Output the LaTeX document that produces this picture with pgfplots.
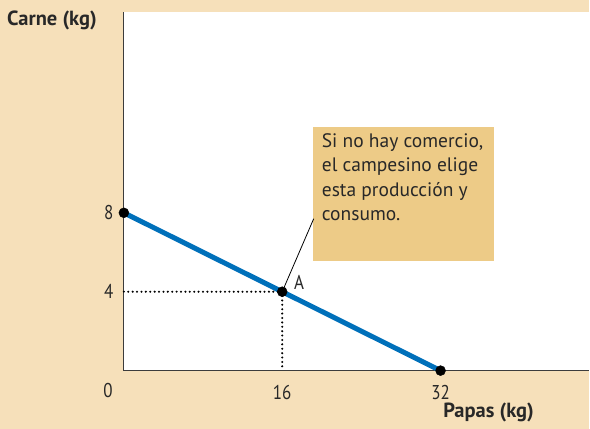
\documentclass[border=0pt]{standalone}
\usepackage{pgfplots}
\pgfplotsset{compat=1.18}
\usepackage{fontspec}
\setmainfont{PT Sans}
\newfontfamily\condfont{PT Sans}[FakeStretch=0.85]
\definecolor{bg}{RGB}{246,224,186}
\definecolor{boxc}{RGB}{237,203,135}
\definecolor{linec}{RGB}{0,112,186}
\definecolor{axisc}{RGB}{60,60,60}
\definecolor{txt}{RGB}{40,40,40}
\begin{document}
\begin{tikzpicture}
\fill[bg] (0,0) rectangle (590pt,429pt);
\begin{axis}[
  at={(124pt,58pt)}, anchor=south west,
  scale only axis, width=466pt, height=359pt,
  xmin=0, xmax=47.04, ymin=0, ymax=18.18,
  axis lines=left,
  axis line style={-, draw=axisc, line width=1.2pt},
  axis background/.style={fill=white},
  xtick={16,32}, ytick={4,8},
  major tick length=0pt,
  tick label style={font=\condfont\fontsize{20}{22}\selectfont, text=txt},
  xticklabel style={yshift=-11pt},
  yticklabel style={xshift=-7pt},
  /pgf/number format/assume math mode=true,
  clip=false,
]
\fill[boxc] (axis cs:19.08,5.57) rectangle (axis cs:37.35,12.35);
\node[anchor=north west, align=left, inner sep=0pt, xshift=9pt, yshift=-6pt,
      font=\fontsize{19.5}{24.5}\selectfont, text=txt]
  at (axis cs:19.08,12.35) {Si no hay comercio,\\el campesino elige\\esta producción y\\consumo.};
\addplot[draw=black, line width=0.8pt] coordinates {(16,4) (19.18,7.70)};
\addplot[draw=linec, line width=5pt] coordinates {(0,8) (32,0)};
\addplot[draw=black, line width=2.3pt, line cap=round, dash pattern=on 0pt off 4.4pt] coordinates {(0,4) (16,4) (16,0)};
\addplot[only marks, mark=*, mark size=5pt, black] coordinates {(0,8) (16,4) (32,0)};
\node[font=\condfont\fontsize{20}{22}\selectfont, text=txt] at (axis cs:0,0) [xshift=-16pt, yshift=-20pt] {0};
\node[font=\condfont\fontsize{20}{22}\selectfont, text=txt] at (axis cs:16,4) [xshift=17pt, yshift=9pt] {A};
\end{axis}
\node[font=\bfseries\fontsize{20.5}{23}\selectfont, text=txt] at (52pt,409pt) {Carne (kg)};
\node[font=\bfseries\fontsize{20.5}{23}\selectfont, text=txt] at (489pt,16pt) {Papas (kg)};
\end{tikzpicture}
\end{document}
